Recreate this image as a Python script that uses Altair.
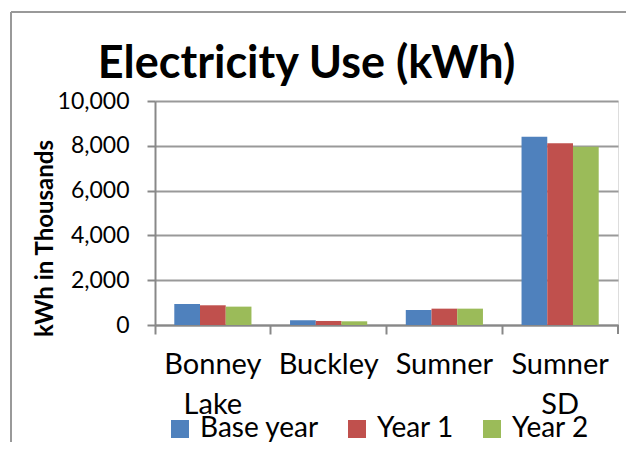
import altair as alt
import pandas as pd

cities = ["Bonney Lake", "Buckley", "Sumner", "Sumner SD"]
series = ["Base year", "Year 1", "Year 2"]
base_year = [940, 210, 670, 8400]
year_1 = [880, 180, 730, 8110]
year_2 = [820, 165, 730, 7960]
colors = ["#4F81BD", "#C0504D", "#9BBB59"]

rows = []
for s, vals in zip(series, [base_year, year_1, year_2]):
    for c, v in zip(cities, vals):
        rows.append({"City": c, "Series": s, "kWh": v})
df = pd.DataFrame(rows)

W, H = 463, 224
FONT = "Lato"

bars = alt.Chart(df).mark_bar().encode(
    x=alt.X("City:N", sort=cities,
            scale=alt.Scale(paddingInner=0, paddingOuter=0),
            axis=alt.Axis(title=None, bandPosition=0,
                          labelExpr="split(datum.label, ' ')",
                          labelFont=FONT, labelFontSize=29, labelColor="#000",
                          labelAngle=0, labelPadding=16, labelLineHeight=40,
                          labelOverlap=False, labelFlush=False,
                          tickSize=9, tickColor="#888", domainColor="#888",
                          tickWidth=2, domainWidth=2)),
    xOffset=alt.XOffset("Series:N", sort=series,
                        scale=alt.Scale(paddingOuter=0.75, paddingInner=0)),
    y=alt.Y("kWh:Q", scale=alt.Scale(domain=[0, 10000], nice=False),
            axis=alt.Axis(title="kWh in Thousands", values=[0, 2000, 4000, 6000, 8000, 10000],
                          format=",.0f", labelFont=FONT, labelFontSize=23, labelColor="#000",
                          labelPadding=18, tickSize=8, tickColor="#888", domainColor="#888",
                          tickWidth=2, domainWidth=2,
                          gridColor="#999", gridWidth=2,
                          titleFont=FONT, titleFontSize=24, titleFontWeight="bold",
                          titleColor="#000", titleX=-98, titleY=137)),
    color=alt.Color("Series:N", sort=series,
                    scale=alt.Scale(domain=series, range=colors),
                    legend=alt.Legend(title=None, orient="none", legendX=11, legendY=314,
                                      direction="horizontal", symbolType="square",
                                      symbolSize=324, symbolStrokeWidth=0,
                                      labelFont=FONT, labelFontSize=28, labelColor="#000",
                                      labelOffset=6, columnPadding=24)),
)

end_tick = alt.Chart(df).mark_rule(color="#888", strokeWidth=2).encode(
    x=alt.value(W), y=alt.value(H), y2=alt.value(H + 9))
left_frame = alt.Chart(df).mark_rule(color="#999", strokeWidth=2).encode(
    x=alt.value(-144), y=alt.value(-89), y2=alt.value(360))
top_frame = alt.Chart(df).mark_rule(color="#999", strokeWidth=2).encode(
    x=alt.value(-144), x2=alt.value(480), y=alt.value(-89))

chart = alt.layer(bars, end_tick, left_frame, top_frame).properties(
    width=W, height=H,
    title=alt.TitleParams("Electricity Use (kWh)", font=FONT, fontSize=45,
                          fontWeight="bold", color="#000", anchor="middle",
                          dx=-80, offset=-76),
    autosize=alt.AutoSizeParams(type="none"),
    padding={"left": 147, "top": 93, "right": 8, "bottom": 117},
).configure_view(stroke=None).configure(background="white")

chart.save("out.html", embed_options={"renderer": "svg", "actions": False})
